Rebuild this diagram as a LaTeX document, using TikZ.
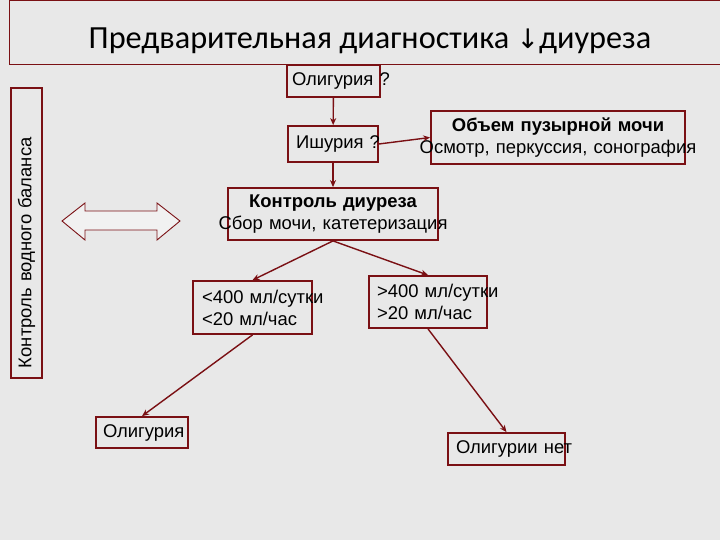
\documentclass[tikz,border=0pt]{standalone}
\usepackage{fontspec}
\setmainfont{Liberation Sans}
\newfontfamily\titlefont{Carlito}
\newfontfamily\arrowfont{DejaVu Sans}
\usepackage{tikz}
\usetikzlibrary{positioning,arrows.meta,calc}
\usepackage{xcolor}
\definecolor{boxred}{RGB}{122,16,20}
\definecolor{slidegray}{RGB}{232,232,232}
\tikzset{
  flowbox/.style={draw=boxred,line width=1.8bp,inner ysep=2bp,
    font=\fontsize{18.5}{22}\selectfont},
  leftbox/.style={flowbox,align=left},
  every edge/.style={draw=boxred,line width=1.4bp,->,>={Stealth[length=7bp,width=6bp]},shorten >=0pt},
}

\begin{document}
\begin{tikzpicture}[x=1bp,y=-1bp]

\fill[slidegray] (0,0) rectangle (720,540);
\useasboundingbox (0,0) rectangle (720,540);

\node[draw=boxred,line width=1bp,minimum width=720bp,minimum height=64bp,
  text height=31bp,text depth=0pt,
  font=\titlefont\fontsize{32.4}{36}\selectfont] (title) at (370,33)
  {Предварительная диагностика {\arrowfont\fontsize{27}{30}\selectfont ↓}диуреза};

\node[leftbox,text width=83bp,inner xsep=5bp,minimum height=32bp] (olig) at (333.5,81) {Олигурия~?};
\node[leftbox,text width=74bp,inner xsep=8bp,minimum height=36bp] (ish) at (333,144) {Ишурия~?};
\node[flowbox,align=center,text width=244bp,inner xsep=5bp,minimum height=53bp] (volume) at (558,137.5)
  {\textbf{Объем пузырной мочи}\\\makebox[0pt]{Осмотр, перкуссия, сонография}};
\node[flowbox,align=center,text width=180bp,inner xsep=15bp,minimum height=52bp] (ctrl) at (333,214)
  {\textbf{Контроль диуреза}\\\makebox[0pt]{Сбор мочи, катетеризация}};
\node[leftbox,text width=101bp,inner xsep=9bp,minimum height=53bp] (less) at (252.5,307.5)
  {<400~мл/сутки\\<20~мл/час};
\node[leftbox,text width=102bp,inner xsep=8bp,minimum height=52bp] (more) at (428,302)
  {>400~мл/сутки\\>20~мл/час};
\node[leftbox,text width=78bp,inner xsep=7bp,minimum height=31bp] (oli) at (142,432.5) {Олигурия};
\node[leftbox,text width=101bp,inner xsep=8bp,minimum height=32bp] (nolig) at (506.5,449) {Олигурии~нет};

% water balance
\node[leftbox,rotate=90,text width=270bp,inner xsep=10bp,minimum height=31bp] (water) at (26.5,233)
  {Контроль водного баланса};

\draw[boxred,line width=0.9bp,fill=slidegray!60!white,line join=miter]
  (62,221) -- (85,203) -- (85,211) -- (157,211) -- (157,203) -- (180,221)
  -- (157,240) -- (157,230) -- (85,230) -- (85,240) -- cycle;

\path
(olig) edge (ish)
(ish.east) edge (volume.west)
(ish) edge (ctrl)
(ctrl.south) edge (less.north)
(ctrl.south) edge (more.north)
(less.south) edge (oli.north)
(more.south) edge (nolig.north);

\end{tikzpicture}
\end{document}
